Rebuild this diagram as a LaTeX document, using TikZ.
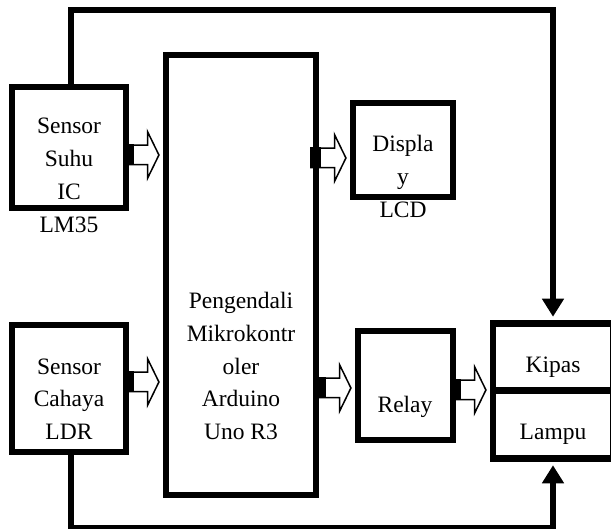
\documentclass[tikz,border=0pt]{standalone}
\usepackage{fontspec}
\setmainfont{Liberation Serif}
\usetikzlibrary{arrows.meta,shapes.arrows}
\begin{document}
\begin{tikzpicture}[x=1pt,y=-1pt,line join=miter,
  box/.style={draw,rectangle,line width=6.5pt,inner sep=0pt},
  wire/.style={line width=6.5pt,-{Triangle[width=21pt,length=18pt]},shorten >=3.5pt},
  boxtext/.style={align=center,anchor=base,font=\fontsize{23.5}{33}\selectfont},
  fatarrow/.style={single arrow,draw,fill=white,line width=1.5pt,
    inner xsep=0pt,inner ysep=9pt,single arrow head extend=13.5pt,
    single arrow tip angle=128,minimum height=35pt,anchor=tip,xshift=-3pt}]

\newcommand{\blockarrow}[3]{
  \node[fatarrow] (#1) at (#2.west |- 0,#3) {};
  \fill (#1.after tail) rectangle ([xshift=11pt]#1.before tail);
}

\useasboundingbox (0,0) rectangle (611,529);

% blocks
\node[box,minimum width=114pt,minimum height=121pt] (suhu) at (69,147.5) {};
\node[box,minimum width=114pt,minimum height=127pt] (cahaya) at (69,388.5) {};
\node[box,minimum width=150pt,minimum height=440pt] (mikro) at (241,275) {};
\node[box,minimum width=100pt,minimum height=94pt] (display) at (403,150) {};
\node[box,minimum width=95pt,minimum height=109pt] (relay) at (405.5,385.5) {};
\node[box,minimum width=120pt,minimum height=67pt] (kipas) at (553,357) {};
\node[box,minimum width=120pt,minimum height=68pt] (lampu) at (553,424.5) {};

% labels (base = last line)
\node[boxtext] (suhutext) at (69,233) {Sensor\\Suhu\\IC\\LM35};
\node[boxtext] (cahayatext) at (69,440) {Sensor\\Cahaya\\LDR};
\node[boxtext] (mikrotext) at (241,440) {Pengendali\\Mikrokontr\\oler\\Arduino\\Uno R3};
\node[boxtext] (displaytext) at (403,218) {Displa\\y\\LCD};
\node[boxtext] (relaytext) at (405,413) {Relay};
\node[boxtext] (kipastext) at (553,373) {Kipas};
\node[boxtext] (lamputext) at (553,440) {Lampu};

% block arrows
\blockarrow{suhuarrow}{mikro}{155}
\blockarrow{cahayaarrow}{mikro}{382}
\blockarrow{displayarrow}{display}{158}
\blockarrow{relayarrow}{relay}{388}
\blockarrow{kipasarrow}{kipas}{390}

% wires
\draw[wire] ([xshift=2pt]suhu.north) -- ++(0,-73.5) -| (kipas.north);
\draw[wire] ([xshift=2pt]cahaya.south) -- ++(0,73) -| (lampu.south);
\end{tikzpicture}
\end{document}
